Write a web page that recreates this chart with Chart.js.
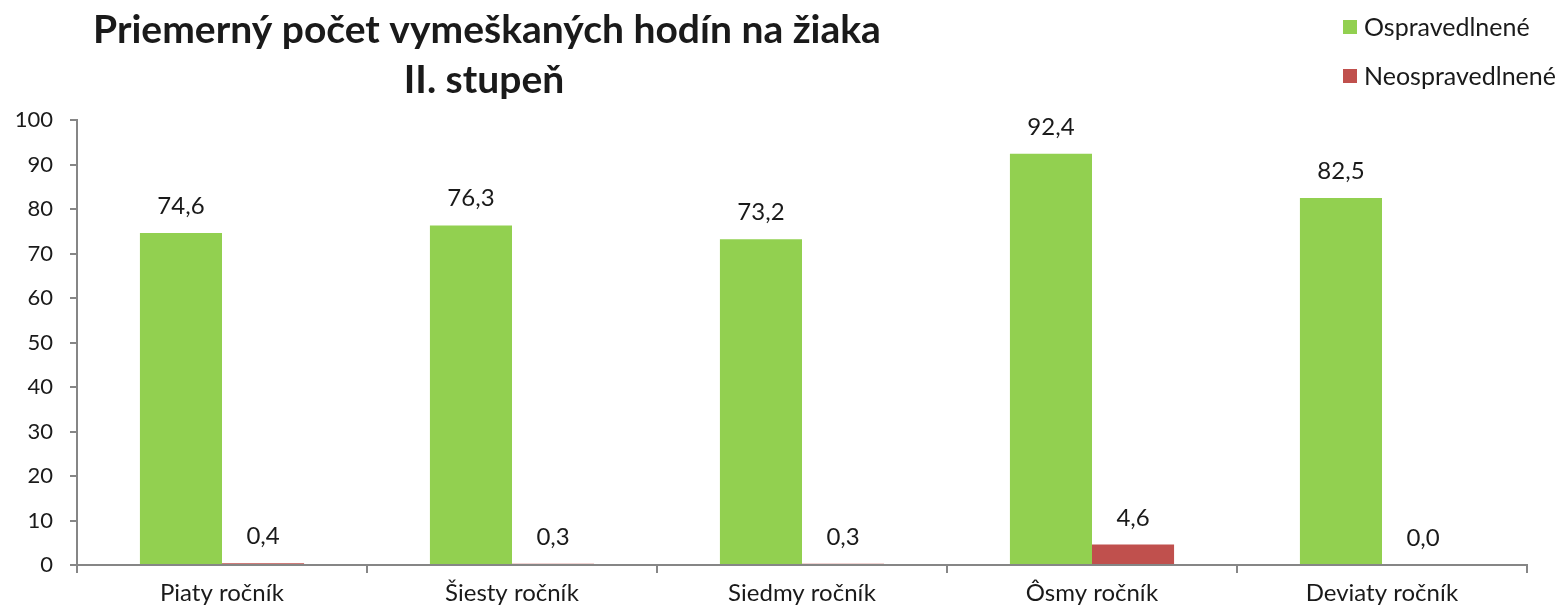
<!DOCTYPE html>
<html><head><meta charset="utf-8">
<script src="https://cdn.jsdelivr.net/npm/chart.js@4/dist/chart.umd.min.js"></script>
<style>html,body{margin:0;padding:0;background:#fff}#wrap{width:1560px;height:614px}</style>
</head><body><div id="wrap"><canvas id="c" width="1560" height="614"></canvas></div>
<script>
const categories = ["Piaty ročník","Šiesty ročník","Siedmy ročník","Ôsmy ročník","Deviaty ročník"];
const excused = [74.6, 76.3, 73.2, 92.4, 82.5];
const unexcused = [0.4, 0.3, 0.3, 4.6, 0.0];
const seriesNames = ["Ospravedlnené","Neospravedlnené"];
const titleLines = ["Priemerný počet vymeškaných hodín na žiaka","II. stupeň"];

const FONT = "Lato, 'Open Sans', sans-serif";
const TXT = "#1a1a1a";
const AX = "#868686";

const overlay = {
  id: 'overlay',
  afterDatasetsDraw(chart) {
    const ctx = chart.ctx;
    ctx.save();
    ctx.fillStyle = TXT;
    ctx.font = "24px " + FONT;
    ctx.textAlign = "center";
    ctx.textBaseline = "alphabetic";
    chart.data.datasets.forEach((ds, i) => {
      const meta = chart.getDatasetMeta(i);
      meta.data.forEach((bar, j) => {
        const v = ds.data[j];
        ctx.fillText(v.toFixed(1).replace('.', ','), bar.x, bar.y - 19);
      });
    });
    // title
    ctx.font = "bold 39px " + FONT;
    ctx.fillText(titleLines[0], 487, 43);
    ctx.fillText(titleLines[1], 484, 93);
    // legend
    ctx.textAlign = "left";
    ctx.font = "25px " + FONT;
    const ly = [27, 76];
    chart.data.datasets.forEach((ds, i) => {
      ctx.fillStyle = ds.backgroundColor;
      ctx.fillRect(1343, ly[i] - 7, 14, 14);
      ctx.fillStyle = TXT;
      ctx.textBaseline = "middle";
      ctx.fillText(ds.label, 1364, ly[i] + 1);
    });
    ctx.restore();
  }
};

new Chart(document.getElementById('c'), {
  type: 'bar',
  data: {
    labels: categories,
    datasets: [
      { label: seriesNames[0], data: excused, backgroundColor: "#92D050" },
      { label: seriesNames[1], data: unexcused, backgroundColor: "#C0504D" }
    ]
  },
  options: {
    responsive: false,
    animation: false,
    devicePixelRatio: 1,
    layout: { padding: { top: 120, right: 33, left: 0, bottom: 0 } },
    datasets: { bar: { barPercentage: 1.0, categoryPercentage: 0.566 } },
    plugins: { legend: { display: false }, title: { display: false }, tooltip: { enabled: false } },
    scales: {
      x: {
        offset: true,
        grid: { display: true, drawOnChartArea: false, drawTicks: true, tickLength: 8, offset: true, color: AX, lineWidth: 2 },
        border: { display: true, color: AX, width: 2 },
        ticks: { color: TXT, font: { family: FONT, size: 24 }, padding: 6 },
        afterFit(s) { s.height = 49; }
      },
      y: {
        min: 0, max: 100,
        grid: { display: true, drawOnChartArea: false, drawTicks: true, tickLength: 7, color: AX, lineWidth: 2 },
        border: { display: true, color: AX, width: 2 },
        ticks: { stepSize: 10, color: TXT, font: { family: FONT, size: 22 }, padding: 17 },
        afterFit(s) { s.width = 77; }
      }
    }
  },
  plugins: [overlay]
});
</script></body></html>
